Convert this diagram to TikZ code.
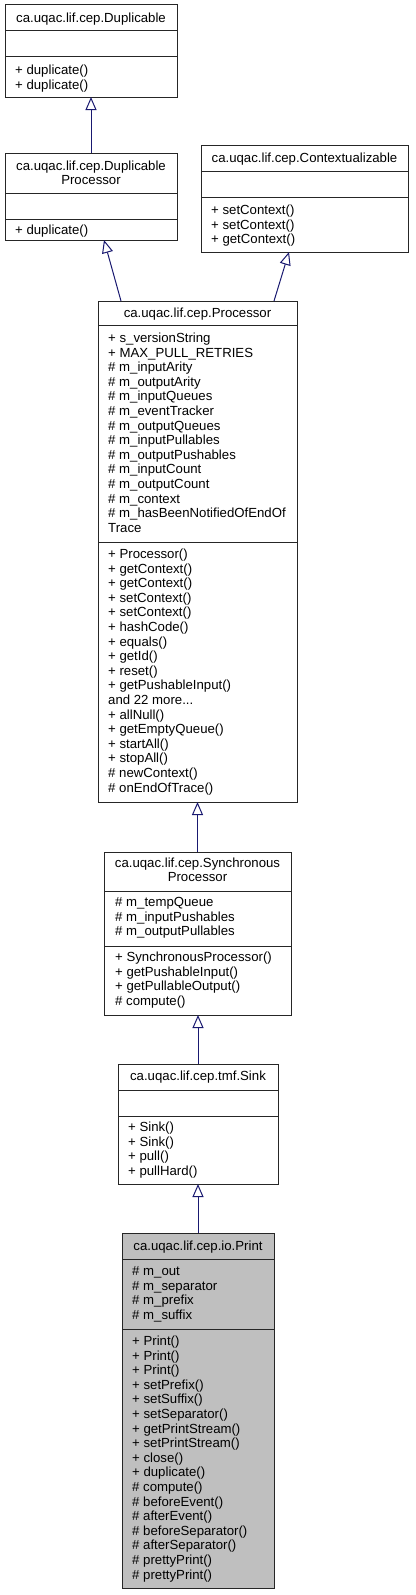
\documentclass[tikz,border=0pt]{standalone}
\usepackage{fontspec}
\setmainfont{Liberation Sans}
\usetikzlibrary{arrows.meta,calc}
\definecolor{navy}{HTML}{191970}
\definecolor{printgray}{HTML}{BFBFBF}
\tikzset{
  box/.style={draw=black!85, line width=1pt, anchor=north west, inner sep=0pt, outer sep=0pt},
  txt/.style={inner sep=0pt, font=\fontsize{13.2}{14.6}\selectfont},
  sepline/.style={draw=black!85, line width=1pt},
  inh/.style={draw=navy, line width=1pt, -{Triangle[open, length=13pt, width=11pt, fill=white]}}
}
\newcommand\moredots{...}
% #1 name prefix, #2 x, #3 first visual centre y, #4 list of lines
\newcommand\umllines[4]{%
  \foreach \cl [count=\i from 0] in {#4}
    \node[txt, anchor=base west] (#1-\i) at ({#2},{#3+4.4+\i*14.6}) {\cl};}
\newcommand\umltitle[4]{%
  \node[txt, anchor=base] (#1) at ({#2},{#3+4.4}) {#4};}
\begin{document}
\begin{tikzpicture}[x=1pt,y=-1pt]
\useasboundingbox (0,0) rectangle (415,1595);

% Duplicable
\node[box, minimum width=172pt, minimum height=92pt] (dup) at (5,5) {};
\draw[sepline] (5,31) -- (177,31);
\draw[sepline] (5,57) -- (177,57);
\umltitle{dup-t}{91}{18}{ca.uqac.lif.cep.Duplicable}
\umllines{dup-m}{15}{70}{+ duplicate(),+ duplicate()}

% DuplicableProcessor
\node[box, minimum width=172pt, minimum height=87pt] (dp) at (5,153) {};
\draw[sepline] (5,193) -- (177,193);
\draw[sepline] (5,219) -- (177,219);
\umltitle{dp-t1}{91}{166}{ca.uqac.lif.cep.Duplicable}
\umltitle{dp-t2}{91}{180}{Processor}
\umllines{dp-m}{15}{230}{+ duplicate()}

% Contextualizable
\node[box, minimum width=207pt, minimum height=107pt] (ctx) at (201,145) {};
\draw[sepline] (201,171) -- (408,171);
\draw[sepline] (201,197) -- (408,197);
\umltitle{ctx-t}{304.5}{158}{ca.uqac.lif.cep.Contextualizable}
\umllines{ctx-m}{211}{210}{+ setContext(),+ setContext(),+ getContext()}

% Processor
\node[box, minimum width=199pt, minimum height=501pt] (proc) at (98,301) {};
\draw[sepline] (98,325) -- (297,325);
\draw[sepline] (98,542) -- (297,542);
\umltitle{proc-t}{197.5}{313}{ca.uqac.lif.cep.Processor}
\umllines{proc-a}{108}{338}{+ s\_versionString,+ MAX\_PULL\_RETRIES,\# m\_inputArity,\# m\_outputArity,\# m\_inputQueues,\# m\_eventTracker,\# m\_outputQueues,\# m\_inputPullables,\# m\_outputPushables,\# m\_inputCount,\# m\_outputCount,\# m\_context,\# m\_hasBeenNotifiedOfEndOf,Trace}
\umllines{proc-m}{108}{554}{+ Processor(),+ getContext(),+ getContext(),+ setContext(),+ setContext(),+ hashCode(),+ equals(),+ getId(),+ reset(),+ getPushableInput(),and 22 more\moredots,+ allNull(),+ getEmptyQueue(),+ startAll(),+ stopAll(),\# newContext(),\# onEndOfTrace()}

% SynchronousProcessor
\node[box, minimum width=187pt, minimum height=163pt] (sp) at (104,852) {};
\draw[sepline] (104,891) -- (291,891);
\draw[sepline] (104,946) -- (291,946);
\umltitle{sp-t1}{197.5}{863}{ca.uqac.lif.cep.Synchronous}
\umltitle{sp-t2}{197.5}{877}{Processor}
\umllines{sp-a}{115}{902}{\# m\_tempQueue,\# m\_inputPushables,\# m\_outputPullables}
\umllines{sp-m}{115}{957}{+ SynchronousProcessor(),+ getPushableInput(),+ getPullableOutput(),\# compute()}

% Sink
\node[box, minimum width=160pt, minimum height=120pt] (sink) at (118,1064) {};
\draw[sepline] (118,1090) -- (278,1090);
\draw[sepline] (118,1116) -- (278,1116);
\umltitle{sink-t}{198}{1076}{ca.uqac.lif.cep.tmf.Sink}
\umllines{sink-m}{128}{1127}{+ Sink(),+ Sink(),+ pull(),+ pullHard()}

% Print
\node[box, fill=printgray, minimum width=152pt, minimum height=355pt] (print) at (122,1233) {};
\draw[sepline] (122,1259) -- (274,1259);
\draw[sepline] (122,1329) -- (274,1329);
\umltitle{print-t}{198}{1246}{ca.uqac.lif.cep.io.Print}
\umllines{print-a}{132}{1271}{\# m\_out,\# m\_separator,\# m\_prefix,\# m\_suffix}
\umllines{print-m}{132}{1341}{+ Print(),+ Print(),+ Print(),+ setPrefix(),+ setSuffix(),+ setSeparator(),+ getPrintStream(),+ setPrintStream(),+ close(),+ duplicate(),\# compute(),\# beforeEvent(),\# afterEvent(),\# beforeSeparator(),\# afterSeparator(),\# prettyPrint(),\# prettyPrint()}

% Inheritance connectors
\draw[inh] (dp.north) -- (dup.south);
\draw[inh] ($(proc.north west)+(23,0)$) -- ($(dp.south west)+(99,0)$);
\draw[inh] ($(proc.north west)+(176,0)$) -- ($(ctx.south west)+(88,0)$);
\draw[inh] (sp.north) -- (sp.north |- proc.south);
\draw[inh] (sink.north) -- (sink.north |- sp.south);
\draw[inh] (print.north) -- (print.north |- sink.south);
\end{tikzpicture}
\end{document}
